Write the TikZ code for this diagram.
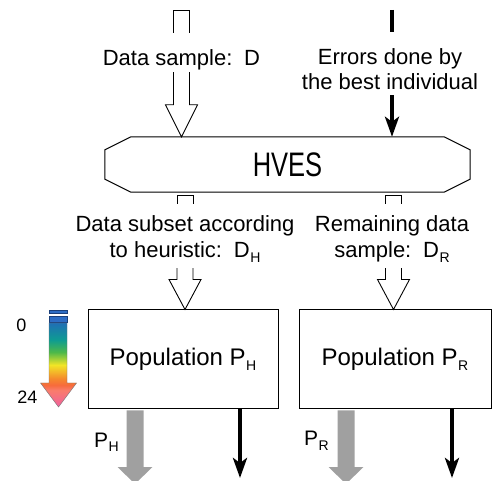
\documentclass[tikz,border=0pt]{standalone}
\usepackage{fontspec}
\setmainfont{Liberation Sans}
\usetikzlibrary{arrows.meta,calc}

\definecolor{hblue}{HTML}{1F6FB5}
\definecolor{hteal}{HTML}{0E9C92}
\definecolor{hgreen}{HTML}{4CB84A}
\definecolor{hyellow}{HTML}{F2E526}
\definecolor{horange}{HTML}{F58A2C}
\definecolor{hred}{HTML}{F76B3C}
\definecolor{hsalmon}{HTML}{F97C6C}
\definecolor{hpink}{HTML}{F0609E}
\definecolor{barblue}{HTML}{2D6CC4}
\definecolor{bardark}{HTML}{1A3F7A}
\definecolor{arrowgray}{HTML}{A0A0A0}

% generation scale: blue at the top, pink at the tip
\pgfdeclareverticalshading{heatdown}{100bp}{%
  color(0bp)=(hpink); color(25bp)=(hpink); color(35bp)=(hsalmon);
  color(38bp)=(hred); color(42bp)=(horange); color(50bp)=(hyellow);
  color(57.7bp)=(hgreen); color(65bp)=(hteal); color(75bp)=(hblue);
  color(100bp)=(hblue)}

% subscript letter, set low and small
\newcommand\subs[1]{\kern0.5pt\raisebox{-5pt}{\fontsize{14}{14}\selectfont #1}}

% closed top part of a hollow arrow, cut off where a label begins
\newcommand\holstub[2]{%
  \draw[hol] let \p1=#1, \p2=#2 in
    (\x1-8pt,\y2) -- (\x1-8pt,\y1) -- (\x1+8pt,\y1) -- (\x1+8pt,\y2);}
% open lower part of a hollow arrow with its head
\newcommand\holhead[4]{%
  \draw[hol] let \p1=#1, \p2=#2, \p3=#3 in
    (\x1-8pt,\y2) -- (\x1-8pt,\y3+#4) -- (\x1-16pt,\y3+#4) -- (\x1,\y3)
    -- (\x1+16pt,\y3+#4) -- (\x1+8pt,\y3+#4) -- (\x1+8pt,\y2);}
% solid grey output arrow
\newcommand\grayarr[2]{%
  \fill[arrowgray] let \p1=#1, \p2=#2 in
    (\x2-8.5pt,\y1) -- (\x2-8.5pt,\y2+17pt) -- (\x2-17.5pt,\y2+17pt) -- (\x2,\y2)
    -- (\x2+17.5pt,\y2+17pt) -- (\x2+8.5pt,\y2+17pt) -- (\x2+8.5pt,\y1) -- cycle;}

\tikzset{
  txt/.style={font=\fontsize{22}{25}\selectfont, inner sep=0pt},
  lbl/.style={font=\fontsize{21}{21}\selectfont, inner sep=0pt},
  scalelbl/.style={font=\fontsize{18}{18}\selectfont, inner sep=0pt},
  hol/.style={draw=black, line width=0.9pt, fill=white, line join=miter},
  frame/.style={draw=black, line width=1pt},
  popbox/.style={frame, minimum height=99pt, inner sep=0pt,
    font=\fontsize{24}{24}\selectfont},
  blk/.style={draw=black, line width=4pt},
  blktip/.style={-{Stealth[length=20pt,width=14pt,inset=5pt]}},
}

\begin{document}
\begin{tikzpicture}[x=1pt,y=1pt]
\clip (0,-481) rectangle (496,0);

% central HVES block
\node[minimum width=365pt, minimum height=55pt, inner sep=0pt] (hves) at (287.5,-164.5)
  {\scalebox{0.75}[1]{\fontsize{34}{34}\selectfont HVES}};
\draw[frame, line join=miter]
  ($(hves.north west)+(26,0)$) -- ($(hves.north east)+(-26,0)$)
  -- ($(hves.north east)+(0,-13)$) -- ($(hves.south east)+(0,13)$)
  -- ($(hves.south east)+(-26,0)$) -- ($(hves.south west)+(26,0)$)
  -- ($(hves.south west)+(0,13)$) -- ($(hves.north west)+(0,-13)$) -- cycle;

% populations
\node[popbox, minimum width=190pt] (popH) at (183,-359.5) {Population P\subs{H}};
\node[popbox, minimum width=192pt] (popR) at (395,-359.5) {Population P\subs{R}};

% inputs of HVES
\coordinate (inD) at (181.5,-10);
\coordinate (errIn) at (392,-10);
\node[txt, anchor=base, text height=33pt, text depth=6pt] (dataD) at (181.5,-66) {Data sample:\, D};
\node[txt, anchor=base, text height=33pt] (err1) at (390,-65) {Errors done by};
\node[txt, anchor=base, text depth=5pt] (err2) at (390,-90) {the best individual};

\holstub{(inD)}{(dataD.north)}
\holhead{(inD)}{(dataD.south)}{(hves.north)}{32pt}
\draw[blk] (errIn) -- (errIn |- err1.north);
\draw[blk, blktip] (errIn |- err2.south) -- (errIn |- hves.north);

% outputs of HVES
\coordinate (lowH) at (185,-195);
\coordinate (lowR) at (393.5,-195);
\node[txt, anchor=base, text height=28pt] (subH1) at (185,-232) {Data subset according};
\node[txt, anchor=base, text depth=10pt] (subH2) at (185,-258) {to heuristic:\, D\subs{H}};
\node[txt, anchor=base, text height=28pt] (subR1) at (392,-232) {Remaining data};
\node[txt, anchor=base, text depth=10pt] (subR2) at (392,-258) {sample:\, D\subs{R}};

\holstub{(lowH)}{(subH1.north)}
\holhead{(lowH)}{(subH2.south)}{(lowH |- popH.north)}{30pt}
\holstub{(lowR)}{(subR1.north)}
\holhead{(lowR)}{(subR2.south)}{(lowR |- popR.north)}{30pt}

% outputs of the populations
\coordinate (outHg) at (135,-484);
\coordinate (outHb) at (240,-478);
\coordinate (outRg) at (346,-484);
\coordinate (outRb) at (452,-478);
\grayarr{($(popH.south -| outHg)+(0,-1)$)}{(outHg)}
\grayarr{($(popR.south -| outRg)+(0,-1)$)}{(outRg)}
\draw[blk, blktip] (popH.south -| outHb) -- (outHb);
\draw[blk, blktip] (popR.south -| outRb) -- (outRb);
\node[lbl, anchor=base west] (lblH) at (94,-447) {P\subs{H}};
\node[lbl, anchor=base west] (lblR) at (304,-446) {P\subs{R}};

% generation scale
\fill[barblue, draw=bardark, line width=0.4pt] (49,-310) rectangle (67,-313);
\fill[barblue, draw=bardark, line width=0.4pt] (49,-316) rectangle (67,-322);
\shade[shading=heatdown, draw=black!55, line width=0.4pt]
  (49,-323) -- (49,-383) -- (40.5,-383) -- (58.5,-407) -- (76.5,-383)
  -- (67,-383) -- (67,-323) -- cycle;
\node[scalelbl, anchor=base] (gen0) at (21.5,-332) {0};
\node[scalelbl, anchor=base] (gen24) at (27.5,-403) {24};
\end{tikzpicture}
\end{document}
